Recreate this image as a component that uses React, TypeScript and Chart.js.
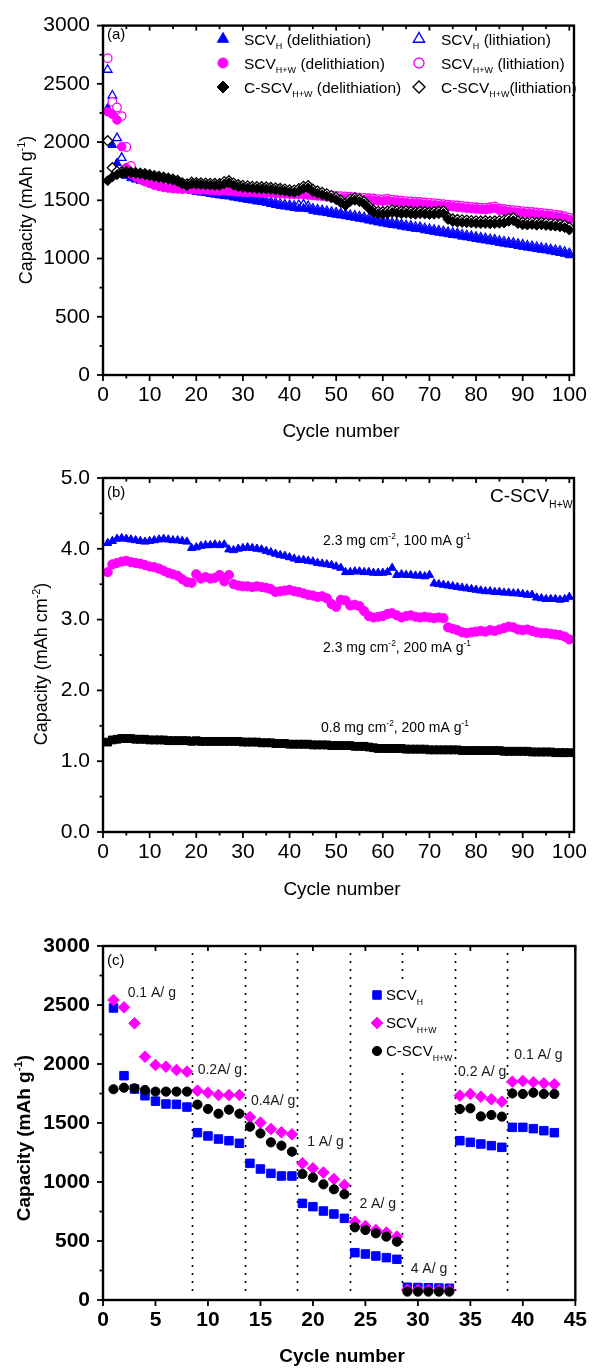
import React, { useEffect, useRef } from "react";
import { Chart, registerables } from "chart.js";
Chart.register(...registerables);

const FONT = '"Liberation Sans", Arial, Helvetica, sans-serif';
const BLUE = "#0000ff";
const PINK = "#ff00ff";
const BLACK = "#000000";

// ---------------- Panel (a) data: cycling at 100 mA/g ----------------
const cyclesA = Array.from({ length: 100 }, (_, i) => i + 1);
const scvHDelith = [
  2290, 1975, 1820, 1750, 1710, 1690, 1678, 1668, 1660, 1652,
  1645, 1637, 1628, 1620, 1612, 1604, 1596, 1590, 1582, 1572,
  1566, 1562, 1554, 1548, 1542, 1536, 1533, 1524, 1518, 1510,
  1504, 1498, 1490, 1486, 1478, 1468, 1460, 1452, 1446, 1440,
  1434, 1428, 1430, 1424, 1410, 1402, 1396, 1390, 1382, 1376,
  1370, 1364, 1356, 1350, 1342, 1336, 1326, 1318, 1310, 1302,
  1295, 1288, 1284, 1275, 1268, 1262, 1255, 1252, 1242, 1236,
  1229, 1222, 1216, 1209, 1202, 1198, 1188, 1182, 1175, 1168,
  1162, 1155, 1148, 1144, 1134, 1128, 1121, 1117, 1108, 1101,
  1094, 1088, 1081, 1075, 1070, 1062, 1055, 1048, 1040, 1028,
];
const scvHWDelith = [
  2260, 2240, 2190, 1960, 1780, 1725, 1700, 1680, 1660, 1645,
  1630, 1620, 1610, 1605, 1600, 1598, 1595, 1600, 1592, 1590,
  1588, 1590, 1585, 1582, 1580, 1583, 1578, 1575, 1572, 1570,
  1568, 1570, 1565, 1562, 1560, 1562, 1558, 1556, 1555, 1553,
  1550, 1552, 1548, 1545, 1540, 1538, 1535, 1530, 1526, 1522,
  1520, 1518, 1515, 1512, 1508, 1505, 1502, 1500, 1495, 1492,
  1498, 1490, 1485, 1482, 1478, 1475, 1472, 1470, 1466, 1462,
  1460, 1456, 1452, 1448, 1444, 1440, 1436, 1432, 1428, 1425,
  1422, 1420, 1425, 1432, 1415, 1410, 1405, 1400, 1396, 1392,
  1388, 1384, 1380, 1376, 1372, 1368, 1362, 1356, 1348, 1335,
];
const cScvHWDelith = [
  1668, 1700, 1720, 1730, 1735, 1735, 1730, 1725, 1718, 1710,
  1702, 1695, 1688, 1680, 1672, 1660, 1640, 1625, 1640, 1638,
  1635, 1632, 1630, 1628, 1626, 1640, 1650, 1630, 1618, 1610,
  1606, 1602, 1600, 1598, 1596, 1592, 1588, 1584, 1578, 1572,
  1568, 1580, 1600, 1605, 1575, 1560, 1548, 1535, 1520, 1505,
  1480, 1455, 1490, 1500, 1488, 1470, 1430, 1395, 1385, 1380,
  1385, 1395, 1390, 1385, 1388, 1383, 1380, 1385, 1382, 1378,
  1380, 1384, 1386, 1335, 1318, 1312, 1310, 1308, 1305, 1302,
  1300, 1302, 1298, 1300, 1303, 1306, 1320, 1325, 1300, 1290,
  1288, 1292, 1286, 1290, 1284, 1280, 1278, 1272, 1265, 1245,
];
const scvHLith = [
  2621, 2400, 2034, 1864, 1770, 1722, 1700, 1688, 1678, 1670,
  1662, 1655, 1646, 1638, 1630, 1622, 1614, 1608, 1600, 1590,
  1584, 1578, 1572, 1566, 1560, 1554, 1548, 1542, 1536, 1528,
  1522, 1516, 1508, 1502, 1494, 1486, 1478, 1470, 1464, 1458,
  1452, 1460, 1465, 1450, 1428, 1420, 1414, 1408, 1400, 1394,
  1388, 1382, 1374, 1368, 1360, 1354, 1344, 1336, 1328, 1320,
  1313, 1306, 1302, 1293, 1286, 1280, 1273, 1270, 1260, 1254,
  1247, 1240, 1234, 1227, 1220, 1216, 1206, 1200, 1193, 1186,
  1180, 1173, 1166, 1162, 1152, 1146, 1139, 1135, 1126, 1119,
  1112, 1106, 1099, 1093, 1088, 1080, 1073, 1066, 1058, 1046,
];
const scvHWLith = [
  2720, 2345, 2297, 2223, 1958, 1795, 1720, 1695, 1675, 1660,
  1645, 1635, 1625, 1620, 1615, 1612, 1610, 1614, 1606, 1604,
  1602, 1604, 1600, 1596, 1594, 1597, 1592, 1590, 1587, 1585,
  1583, 1585, 1580, 1577, 1575, 1577, 1573, 1571, 1570, 1568,
  1565, 1567, 1563, 1560, 1555, 1553, 1550, 1545, 1541, 1537,
  1535, 1533, 1530, 1527, 1523, 1520, 1517, 1515, 1510, 1507,
  1513, 1505, 1500, 1497, 1493, 1490, 1487, 1485, 1481, 1477,
  1475, 1471, 1467, 1463, 1459, 1455, 1451, 1447, 1443, 1440,
  1437, 1435, 1440, 1447, 1430, 1425, 1420, 1415, 1411, 1407,
  1403, 1399, 1395, 1391, 1387, 1383, 1377, 1371, 1363, 1350,
];
const cScvHWLith = [
  2012, 1780, 1750, 1745, 1745, 1742, 1738, 1733, 1728, 1720,
  1712, 1705, 1698, 1690, 1682, 1670, 1650, 1640, 1655, 1652,
  1650, 1648, 1646, 1644, 1642, 1660, 1668, 1648, 1635, 1628,
  1624, 1620, 1618, 1616, 1614, 1610, 1606, 1602, 1596, 1590,
  1588, 1600, 1620, 1625, 1595, 1580, 1568, 1555, 1540, 1525,
  1500, 1475, 1510, 1520, 1508, 1490, 1450, 1415, 1405, 1402,
  1408, 1418, 1410, 1406, 1410, 1404, 1400, 1406, 1402, 1398,
  1402, 1406, 1408, 1355, 1340, 1335, 1332, 1330, 1326, 1324,
  1322, 1325, 1320, 1322, 1326, 1330, 1345, 1350, 1322, 1312,
  1310, 1315, 1308, 1312, 1306, 1302, 1300, 1294, 1288, 1268,
];
const capTicksA = [0, 500, 1000, 1500, 2000, 2500, 3000];
const capMinorA = [250, 750, 1250, 1750, 2250, 2750];
const cycleTicks100 = [0, 10, 20, 30, 40, 50, 60, 70, 80, 90, 100];
const cycleMinor100 = [5, 15, 25, 35, 45, 55, 65, 75, 85, 95];

// ---------------- Panel (b) data: areal capacity ----------------
const cyclesB = Array.from({ length: 100 }, (_, i) => i + 1);
const areal23at100 = [
  4.08, 4.11, 4.14, 4.15, 4.14, 4.13, 4.12, 4.11, 4.10, 4.11,
  4.12, 4.13, 4.14, 4.13, 4.12, 4.12, 4.11, 4.10, 4.01, 4.02,
  4.04, 4.05, 4.05, 4.06, 4.05, 4.06, 3.99, 3.98, 4.00, 4.01,
  4.02, 4.01, 4.00, 3.99, 3.97, 3.95, 3.93, 3.91, 3.90, 3.88,
  3.86, 3.84, 3.84, 3.83, 3.82, 3.80, 3.79, 3.78, 3.77, 3.75,
  3.73, 3.67, 3.67, 3.68, 3.68, 3.67, 3.67, 3.66, 3.66, 3.66,
  3.67, 3.73, 3.63, 3.64, 3.63, 3.63, 3.62, 3.62, 3.61, 3.63,
  3.51, 3.50, 3.49, 3.48, 3.47, 3.46, 3.45, 3.44, 3.43, 3.42,
  3.41, 3.40, 3.40, 3.39, 3.39, 3.38, 3.38, 3.37, 3.37, 3.36,
  3.35, 3.35, 3.31, 3.30, 3.29, 3.29, 3.29, 3.28, 3.29, 3.32,
];
const areal23at200 = [
  3.67, 3.78, 3.80, 3.82, 3.83, 3.81, 3.80, 3.79, 3.77, 3.75,
  3.74, 3.72, 3.69, 3.66, 3.64, 3.62, 3.57, 3.53, 3.52, 3.64,
  3.58, 3.60, 3.58, 3.59, 3.63, 3.54, 3.63, 3.50, 3.48, 3.47,
  3.47, 3.46, 3.47, 3.46, 3.45, 3.43, 3.39, 3.40, 3.41, 3.42,
  3.40, 3.39, 3.37, 3.35, 3.34, 3.32, 3.33, 3.30, 3.22, 3.18,
  3.28, 3.27, 3.20, 3.21, 3.19, 3.12, 3.05, 3.03, 3.04, 3.05,
  3.08, 3.09, 3.06, 3.03, 3.05, 3.06, 3.04, 3.03, 3.04, 3.03,
  3.02, 3.03, 3.02, 2.89, 2.87, 2.85, 2.82, 2.81, 2.82, 2.83,
  2.84, 2.83, 2.85, 2.84, 2.86, 2.88, 2.90, 2.89, 2.86, 2.85,
  2.86, 2.84, 2.82, 2.81, 2.81, 2.80, 2.79, 2.78, 2.76, 2.72,
];
const areal08at200 = [
  1.27, 1.30, 1.31, 1.32, 1.32, 1.32, 1.31, 1.31, 1.31, 1.30,
  1.30, 1.30, 1.30, 1.29, 1.29, 1.29, 1.29, 1.29, 1.28, 1.29,
  1.28, 1.28, 1.28, 1.28, 1.28, 1.28, 1.28, 1.28, 1.28, 1.27,
  1.27, 1.27, 1.27, 1.26, 1.26, 1.26, 1.25, 1.25, 1.25, 1.24,
  1.24, 1.24, 1.24, 1.24, 1.23, 1.23, 1.23, 1.23, 1.22, 1.22,
  1.22, 1.22, 1.22, 1.21, 1.21, 1.21, 1.20, 1.19, 1.18, 1.18,
  1.18, 1.18, 1.18, 1.18, 1.17, 1.17, 1.17, 1.17, 1.17, 1.16,
  1.16, 1.16, 1.16, 1.16, 1.16, 1.16, 1.15, 1.15, 1.15, 1.15,
  1.15, 1.15, 1.15, 1.15, 1.15, 1.14, 1.14, 1.14, 1.14, 1.14,
  1.14, 1.13, 1.13, 1.13, 1.13, 1.13, 1.12, 1.12, 1.12, 1.12,
];
const arealTicks = [0, 1, 2, 3, 4, 5];
const arealMinor = [0.5, 1.5, 2.5, 3.5, 4.5];

// ---------------- Panel (c) data: rate capability ----------------
const cyclesC = Array.from({ length: 43 }, (_, i) => i + 1);
const rateSCVH = [
  2475, 1901, 1788, 1731, 1685, 1661, 1658, 1635,
  1418, 1390, 1364, 1350, 1328,
  1158, 1110, 1073, 1051, 1051,
  819, 791, 754, 729, 692,
  401, 390, 373, 359, 345,
  108, 106, 104, 102, 100,
  1350, 1336, 1322, 1308, 1294,
  1463, 1463, 1452, 1435, 1418,
];
const rateSCVHW = [
  2542, 2480, 2345, 2062, 1992, 1977, 1949, 1935,
  1774, 1757, 1737, 1737, 1737,
  1550, 1503, 1449, 1421, 1404,
  1158, 1116, 1080, 1025, 975,
  664, 627, 593, 571, 537,
  86, 85, 84, 83, 82,
  1732, 1746, 1723, 1701, 1681,
  1850, 1856, 1845, 1836, 1828,
];
const rateCSCVHW = [
  1786, 1799, 1794, 1780, 1766, 1766, 1766, 1766,
  1656, 1619, 1579, 1613, 1579,
  1469, 1412, 1336, 1308, 1257,
  1068, 1037, 980, 938, 896,
  616, 593, 565, 537, 494,
  71, 71, 71, 71, 71,
  1618, 1624, 1556, 1568, 1554,
  1751, 1746, 1757, 1746, 1746,
];
const rateBoundaries = [8.5, 13.5, 18.5, 23.5, 28.5, 33.5, 38.5];
const rateLabels = ["0.1 A/ g", "0.2A/ g", "0.4A/ g", "1 A/ g", "2 A/ g", "4 A/ g", "0.2 A/ g", "0.1 A/ g"];
const capTicksC = [0, 500, 1000, 1500, 2000, 2500, 3000];
const capMinorC = [250, 750, 1250, 1750, 2250, 2750];
const cycleTicks45 = [0, 5, 10, 15, 20, 25, 30, 35, 40, 45];

// ---------------- helpers ----------------
type Seg = [string, string?];

function fontStr(size: number, bold?: boolean) {
  return `${bold ? "bold " : ""}${size}px ${FONT}`;
}

function drawRich(
  ctx: CanvasRenderingContext2D,
  segs: Seg[],
  x: number,
  y: number,
  size: number,
  o: { bold?: boolean; align?: string; rotate?: boolean; color?: string; small?: number } = {}
) {
  const small = size * (o.small ?? 0.6);
  ctx.save();
  ctx.translate(x, y);
  if (o.rotate) ctx.rotate(-Math.PI / 2);
  ctx.textBaseline = "alphabetic";
  ctx.textAlign = "left";
  ctx.fillStyle = o.color || "#000";
  let total = 0;
  const widths = segs.map(([t, k]) => {
    ctx.font = fontStr(k ? small : size, o.bold);
    const w = ctx.measureText(t).width;
    total += w;
    return w;
  });
  let cx = o.align === "center" ? -total / 2 : 0;
  const base = size * 0.36;
  segs.forEach(([t, k], i) => {
    ctx.font = fontStr(k ? small : size, o.bold);
    const dy = k === "sub" ? size * 0.3 : k === "sup" ? -size * 0.42 : 0;
    ctx.fillText(t, cx, base + dy);
    cx += widths[i];
  });
  ctx.restore();
}

function drawMarker(
  ctx: CanvasRenderingContext2D,
  shape: string,
  x: number,
  y: number,
  r: number,
  color: string,
  hollow: boolean
) {
  ctx.save();
  ctx.beginPath();
  if (shape === "triangle") {
    ctx.moveTo(x, y - r);
    ctx.lineTo(x + r * 0.866, y + r / 2);
    ctx.lineTo(x - r * 0.866, y + r / 2);
    ctx.closePath();
  } else if (shape === "circle") {
    ctx.arc(x, y, r, 0, Math.PI * 2);
  } else if (shape === "rectRot") {
    ctx.moveTo(x - r, y);
    ctx.lineTo(x, y - r);
    ctx.lineTo(x + r, y);
    ctx.lineTo(x, y + r);
    ctx.closePath();
  } else {
    const s = r * Math.SQRT1_2;
    ctx.rect(x - s, y - s, 2 * s, 2 * s);
  }
  ctx.fillStyle = hollow ? "#fff" : color;
  ctx.fill();
  ctx.lineWidth = hollow ? 1.4 : 1;
  ctx.strokeStyle = color;
  ctx.stroke();
  ctx.restore();
}

const pts = (xs: number[], ys: number[]) => ys.map((y, i) => ({ x: xs[i], y }));

function ds(label: string, xs: number[], ys: number[], shape: string, color: string, r: number, hollow: boolean, order: number) {
  return {
    label,
    data: pts(xs, ys),
    order,
    showLine: false,
    pointStyle: shape,
    pointRadius: r,
    pointHoverRadius: r,
    backgroundColor: hollow ? "#ffffff" : color,
    borderColor: color,
    pointBackgroundColor: hollow ? "#ffffff" : color,
    pointBorderColor: color,
    pointBorderWidth: hollow ? 1.3 : 1,
    borderWidth: hollow ? 1.3 : 1,
  };
}

function linScale(min: number, max: number, major: number[], fmt: (v: number) => string, axis: string, size: number, padding: number, bold = false) {
  return {
    type: "linear",
    min,
    max,
    grid: { display: false, drawTicks: false },
    border: { display: false },
    afterBuildTicks: (s: any) => {
      s.ticks = major.map((v) => ({ value: v }));
    },
    afterFit: (s: any) => {
      if (axis === "x") s.height = size;
      else s.width = size;
    },
    ticks: {
      padding,
      autoSkip: false,
      maxRotation: 0,
      minRotation: 0,
      color: "#000",
      font: { family: FONT, size: 21, weight: bold ? "bold" : "normal" },
      callback: (v: any) => fmt(Number(v)),
    },
  };
}

interface AxisSpec {
  xMajor: number[];
  xMinor: number[];
  yMajor: number[];
  yMinor: number[];
}

function drawAxes(chart: any, s: AxisSpec) {
  const { ctx, chartArea: a, scales } = chart;
  const x = scales.x;
  const y = scales.y;
  ctx.save();
  ctx.strokeStyle = "#000";
  ctx.lineWidth = 1.8;
  const seg = (x1: number, y1: number, x2: number, y2: number) => {
    ctx.beginPath();
    ctx.moveTo(x1, y1);
    ctx.lineTo(x2, y2);
    ctx.stroke();
  };
  s.xMajor.forEach((v) => {
    const p = x.getPixelForValue(v);
    seg(p, a.bottom, p, a.bottom + 6);
    seg(p, a.top, p, a.top + 5);
  });
  s.xMinor.forEach((v) => {
    const p = x.getPixelForValue(v);
    seg(p, a.bottom, p, a.bottom + 3.5);
    seg(p, a.top, p, a.top + 3.5);
  });
  s.yMajor.forEach((v) => {
    const p = y.getPixelForValue(v);
    seg(a.left - 6, p, a.left, p);
  });
  s.yMinor.forEach((v) => {
    const p = y.getPixelForValue(v);
    seg(a.left - 3.5, p, a.left, p);
  });
  ctx.lineWidth = 2.4;
  ctx.strokeRect(a.left, a.top, a.right - a.left, a.bottom - a.top);
  ctx.restore();
}

function baseOptions(padTop: number, padRight: number, xScale: any, yScale: any) {
  return {
    animation: false,
    responsive: false,
    maintainAspectRatio: false,
    events: [],
    layout: { padding: { left: 0, top: padTop, right: padRight, bottom: 0 } },
    plugins: { legend: { display: false }, tooltip: { enabled: false }, title: { display: false } },
    scales: { x: xScale, y: yScale },
  };
}

// ---------------- chart builders ----------------
function buildA() {
  const legendA = [
    { col: 0, row: 0, shape: "triangle", r: 6.5, color: BLUE, hollow: false, segs: [["SCV"], ["H", "sub"], [" (delithiation)"]] },
    { col: 0, row: 1, shape: "circle", r: 5, color: PINK, hollow: false, segs: [["SCV"], ["H+W", "sub"], [" (delithiation)"]] },
    { col: 0, row: 2, shape: "rectRot", r: 6, color: BLACK, hollow: false, segs: [["C-SCV"], ["H+W", "sub"], [" (delithiation)"]] },
    { col: 1, row: 0, shape: "triangle", r: 6.5, color: BLUE, hollow: true, segs: [["SCV"], ["H", "sub"], [" (lithiation)"]] },
    { col: 1, row: 1, shape: "circle", r: 5, color: PINK, hollow: true, segs: [["SCV"], ["H+W", "sub"], [" (lithiation)"]] },
    { col: 1, row: 2, shape: "rectRot", r: 6, color: BLACK, hollow: true, segs: [["C-SCV"], ["H+W", "sub"], ["(lithiation)"]] },
  ];
  const rowsY = [39, 63, 87];
  const symX = [223, 419];
  const txtX = [244, 441];
  return {
    type: "scatter",
    data: {
      datasets: [
        // drawing order: lower "order" is painted later (on top)
        ds("SCVH (lithiation)", cyclesA, scvHLith, "triangle", BLUE, 5, true, 6),
        ds("SCVH (delithiation)", cyclesA, scvHDelith, "triangle", BLUE, 5, false, 5),
        ds("SCVH+W (lithiation)", cyclesA, scvHWLith, "circle", PINK, 4.3, true, 4),
        ds("SCVH+W (delithiation)", cyclesA, scvHWDelith, "circle", PINK, 4.3, false, 3),
        ds("C-SCVH+W (lithiation)", cyclesA, cScvHWLith, "rectRot", BLACK, 5, true, 2),
        ds("C-SCVH+W (delithiation)", cyclesA, cScvHWDelith, "rectRot", BLACK, 5, false, 1),
      ],
    },
    options: baseOptions(
      21,
      16,
      linScale(0, 101, cycleTicks100, (v) => String(v), "x", 75, 8),
      linScale(0, 3000, capTicksA, (v) => String(v), "y", 103, 13)
    ),
    plugins: [
      {
        id: "decoA",
        afterDraw(chart: any) {
          const ctx = chart.ctx;
          drawAxes(chart, { xMajor: cycleTicks100, xMinor: cycleMinor100, yMajor: capTicksA, yMinor: capMinorA });
          drawRich(ctx, [["(a)"]], 107, 34, 15);
          legendA.forEach((e) => {
            drawMarker(ctx, e.shape, symX[e.col], rowsY[e.row], e.r, e.color, e.hollow);
            drawRich(ctx, e.segs as Seg[], txtX[e.col], rowsY[e.row], 15.5, { small: 0.58 });
          });
          drawRich(ctx, [["Capacity (mAh g"], ["-1", "sup"], [")"]], 26, 210, 18, { rotate: true, align: "center" });
          drawRich(ctx, [["Cycle number"]], 341, 430, 19, { align: "center" });
        },
      },
    ],
  };
}

function buildB() {
  return {
    type: "scatter",
    data: {
      datasets: [
        ds("2.3 mg cm-2, 100 mA g-1", cyclesB, areal23at100, "triangle", BLUE, 4.8, false, 3),
        ds("2.3 mg cm-2, 200 mA g-1", cyclesB, areal23at200, "circle", PINK, 4.6, false, 2),
        ds("0.8 mg cm-2, 200 mA g-1", cyclesB, areal08at200, "rect", BLACK, 5.5, false, 1),
      ],
    },
    options: baseOptions(
      28,
      13,
      linScale(0, 101, cycleTicks100, (v) => String(v), "x", 68, 8),
      linScale(0, 5, arealTicks, (v) => v.toFixed(1), "y", 103, 13)
    ),
    plugins: [
      {
        id: "decoB",
        afterDraw(chart: any) {
          const ctx = chart.ctx;
          drawAxes(chart, { xMajor: cycleTicks100, xMinor: cycleMinor100, yMajor: arealTicks, yMinor: arealMinor });
          drawRich(ctx, [["(b)"]], 107, 42, 15);
          drawRich(ctx, [["C-SCV"], ["H+W", "sub"]], 490, 45, 19, { small: 0.55 });
          drawRich(ctx, [["2.3 mg cm"], ["-2", "sup"], [", 100 mA g"], ["-1", "sup"]], 323, 90, 14);
          drawRich(ctx, [["2.3 mg cm"], ["-2", "sup"], [", 200 mA g"], ["-1", "sup"]], 323, 197, 14);
          drawRich(ctx, [["0.8 mg cm"], ["-2", "sup"], [", 200 mA g"], ["-1", "sup"]], 321, 277, 14);
          drawRich(ctx, [["Capacity (mAh cm"], ["-2", "sup"], [")"]], 41, 214, 18, { rotate: true, align: "center" });
          drawRich(ctx, [["Cycle number"]], 342, 438, 19, { align: "center" });
        },
      },
    ],
  };
}

function buildC() {
  const labelPos = [
    [2.35, 2613], [9.02, 1958], [14.09, 1695], [19.45, 1350],
    [24.43, 822], [29.31, 271], [33.82, 1943], [39.18, 2085],
  ];
  const legendC = [
    { shape: "rect", r: 6, color: BLUE, segs: [["SCV"], ["H", "sub"]] },
    { shape: "rectRot", r: 5.8, color: PINK, segs: [["SCV"], ["H+W", "sub"]] },
    { shape: "circle", r: 4.6, color: BLACK, segs: [["C-SCV"], ["H+W", "sub"]] },
  ];
  const legRows = [95, 123, 151];
  return {
    type: "scatter",
    data: {
      datasets: [
        ds("SCVH", cyclesC, rateSCVH, "rect", BLUE, 6, false, 3),
        ds("SCVH+W", cyclesC, rateSCVHW, "rectRot", PINK, 5.8, false, 2),
        ds("C-SCVH+W", cyclesC, rateCSCVHW, "circle", BLACK, 4.6, false, 1),
      ],
    },
    options: baseOptions(
      46,
      13,
      linScale(0, 45, cycleTicks45, (v) => String(v), "x", 68, 8, true),
      linScale(0, 3000, capTicksC, (v) => String(v), "y", 103, 13, true)
    ),
    plugins: [
      {
        id: "decoC",
        beforeDatasetsDraw(chart: any) {
          const { ctx, chartArea: a, scales } = chart;
          ctx.save();
          ctx.strokeStyle = "#000";
          ctx.lineWidth = 1.6;
          ctx.setLineDash([2, 6]);
          rateBoundaries.forEach((b) => {
            const p = Math.round(scales.x.getPixelForValue(b)) + 0.5;
            ctx.beginPath();
            ctx.moveTo(p, a.top + 7);
            ctx.lineTo(p, a.bottom - 8);
            ctx.stroke();
          });
          ctx.restore();
        },
        afterDraw(chart: any) {
          const { ctx, scales } = chart;
          ctx.save();
          ctx.fillStyle = "#fff";
          ctx.fillRect(368, 80, 84, 92);
          ctx.restore();
          legendC.forEach((e, i) => {
            drawMarker(ctx, e.shape, 377, legRows[i], e.r, e.color, false);
            drawRich(ctx, e.segs as Seg[], 386, legRows[i], 15, { small: 0.58 });
          });
          rateLabels.forEach((t, i) => {
            const px = scales.x.getPixelForValue(labelPos[i][0]);
            const py = scales.y.getPixelForValue(labelPos[i][1]);
            drawRich(ctx, [[t]], px, py, 14, { color: "#1a1a1a" });
          });
          drawAxes(chart, { xMajor: cycleTicks45, xMinor: [], yMajor: capTicksC, yMinor: capMinorC });
          drawRich(ctx, [["(c)"]], 107, 60, 15);
          drawRich(ctx, [["Capacity (mAh g"], ["-1", "sup"], [")"]], 23, 238, 19, { rotate: true, align: "center", bold: true });
          drawRich(ctx, [["Cycle number"]], 342, 455, 19, { align: "center", bold: true });
        },
      },
    ],
  };
}

function Panel({ top, height, build }: { top: number; height: number; build: () => any }) {
  const ref = useRef<HTMLCanvasElement>(null);
  useEffect(() => {
    const chart = new Chart(ref.current as HTMLCanvasElement, build());
    return () => chart.destroy();
  }, []);
  return (
    <canvas
      ref={ref}
      width={595}
      height={height}
      style={{ position: "absolute", left: 0, top, width: 595, height, display: "block" }}
    />
  );
}

export default function App() {
  return (
    <div style={{ position: "absolute", left: 0, top: 0, width: 595, height: 1368, background: "#fff" }}>
      <Panel top={0} height={450} build={buildA} />
      <Panel top={450} height={450} build={buildB} />
      <Panel top={900} height={468} build={buildC} />
    </div>
  );
}
